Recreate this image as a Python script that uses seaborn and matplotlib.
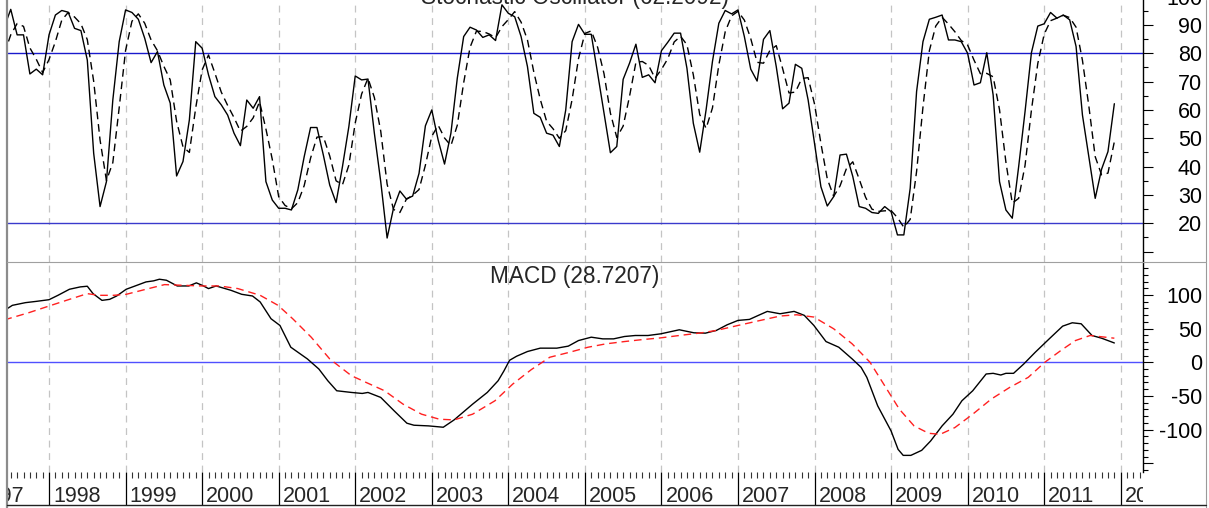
import numpy as np
import matplotlib
matplotlib.use('Agg')
import matplotlib.pyplot as plt
import matplotlib.transforms as mtransforms
from matplotlib.lines import Line2D
from matplotlib.ticker import MultipleLocator, FixedLocator, FuncFormatter
import seaborn as sns

# Monthly stochastic values, month index counted from January 1998 (-7 = June 1997)
stoch_month = list(range(-7, 168))
stoch_k = [
    89.4, 95.5, 86.5, 86.5, 72.7, 74.4, 72.4,
    86.5, 93.5, 95.1, 94.5, 88.8, 88.0, 77.6, 44.7, 25.9, 34.7, 63.5, 84.1,
    95.3, 94.4, 92.0, 85.3, 76.7, 80.6, 68.8, 62.4, 36.7, 41.8, 56.5, 84.1,
    81.8, 72.4, 64.7, 61.8, 58.2, 51.8, 47.4, 63.5, 60.6, 64.7, 34.7, 28.2,
    25.3, 25.3, 24.7, 31.8, 43.5, 53.8, 53.8, 44.1, 33.5, 27.3, 40.0, 54.1,
    72.0, 70.6, 70.9, 51.8, 34.7, 14.8, 25.3, 31.4, 28.6, 29.6, 37.6, 54.4,
    60.0, 49.4, 40.9, 51.8, 71.2, 85.9, 89.2, 88.2, 85.6, 86.5, 84.5, 97.1,
    94.1, 92.9, 85.9, 75.3, 58.8, 57.4, 51.8, 51.1, 47.1, 60.0, 84.1, 90.2,
    86.7, 86.7, 72.9, 58.8, 44.9, 47.1, 70.8, 76.5, 83.2, 71.5, 72.4, 69.6,
    80.9, 83.9, 87.1, 87.1, 74.7, 55.3, 45.1, 60.0, 77.1, 90.6, 95.1, 93.9,
    95.3, 85.9, 74.4, 70.2, 84.9, 88.0, 75.3, 60.4, 62.4, 76.1, 74.7, 63.5,
    48.2, 32.9, 26.1, 29.4, 44.1, 44.4, 36.5, 25.9, 25.3, 23.8, 23.5, 25.9,
    24.1, 15.9, 15.9, 32.4, 66.5, 84.1, 92.0, 92.7, 93.5, 84.7, 84.7, 84.1,
    80.0, 68.8, 69.6, 80.2, 65.3, 34.7, 24.7, 21.8, 40.0, 59.4, 80.2, 89.6,
    90.4, 94.4, 92.4, 93.5, 91.8, 82.4, 58.2, 43.5, 28.8, 39.1, 45.3, 62.2,
]
stoch_d = [
    80.0, 86.5, 90.5, 89.5, 81.9, 77.9, 73.2,
    77.8, 84.1, 91.7, 94.4, 92.8, 90.4, 84.8, 70.1, 49.4, 35.1, 41.4, 60.8,
    81.0, 91.3, 93.9, 90.6, 84.7, 80.9, 75.4, 70.6, 56.0, 47.0, 45.0, 60.8,
    74.1, 79.4, 73.0, 66.3, 61.6, 57.3, 52.5, 54.2, 57.2, 62.9, 53.3, 42.5,
    29.4, 26.3, 25.1, 27.3, 33.3, 43.0, 50.4, 50.6, 43.8, 35.0, 33.6, 40.5,
    55.4, 65.6, 71.2, 64.4, 52.5, 33.8, 24.9, 23.8, 28.4, 29.9, 31.9, 40.5,
    50.7, 54.6, 50.1, 47.4, 54.6, 69.6, 82.1, 87.8, 87.7, 86.8, 85.5, 89.4,
    91.9, 94.7, 91.0, 84.7, 73.3, 63.8, 56.0, 53.4, 50.0, 52.7, 63.7, 78.1,
    87.0, 87.9, 82.1, 72.8, 58.9, 50.3, 54.3, 64.8, 76.8, 77.1, 75.7, 71.2,
    74.3, 78.1, 84.0, 86.0, 83.0, 72.4, 58.4, 53.5, 60.7, 75.9, 87.6, 93.2,
    94.8, 91.7, 85.2, 76.8, 76.5, 81.0, 82.7, 74.6, 66.0, 66.3, 71.1, 71.4,
    62.1, 48.2, 35.7, 29.5, 33.2, 39.3, 41.7, 35.6, 29.2, 25.0, 24.2, 24.4,
    24.5, 22.0, 18.6, 21.4, 38.3, 61.0, 80.9, 89.6, 92.7, 90.3, 87.6, 84.5,
    82.9, 77.6, 72.8, 72.9, 71.7, 60.1, 41.6, 27.1, 28.8, 40.4, 59.9, 76.4,
    86.7, 91.5, 92.4, 93.4, 92.6, 89.2, 77.5, 61.4, 43.5, 37.1, 37.7, 48.8,
]

# MACD line and signal line, read at irregular month positions
macd_month = [
    -7, -5.75, -3.7, -2.0, 0, 1.4, 3.2, 4.9, 6.0, 6.9, 8.3, 9.5, 10.6, 12.1, 13.5,
    15.2, 16.4, 17.3, 18.4, 20.1, 21.9, 23.1, 24.0, 25.0, 26.2, 28.5, 30.2, 31.9,
    33.1, 34.8, 36.2, 37.9, 40.5, 42.3, 43.7, 45.1, 47.4, 49.1, 50.0, 52.0, 54.1,
    56.1, 57.2, 59.5, 61.8, 63.5, 66.4, 68.7, 70.4, 71.3, 72.2, 73.3, 75.0, 77.0,
    79.6, 81.4, 83.0, 85.0, 86.8, 88.5, 90.2, 91.9, 93.9, 95.9, 98.8, 101.1, 102.9,
    104.6, 106.3, 108.0, 109.8, 111.2, 112.6, 114.6, 116.8, 118.4, 119.9, 121.8,
    123.8, 125.9, 127.3, 128.2, 129.9, 132.0, 133.1, 133.9, 135.1, 136.8, 138.2,
    140.0, 141.7, 143.1, 144.8, 146.9, 148.0, 149.2, 150.0, 151.2, 152.8, 154.6,
    156.9, 158.9, 160.4, 161.8, 163.5, 165.0, 167.0,
]
macd_value = [
    77, 84.6, 88.6, 90.5, 93.0, 99.5, 108.5, 112, 113, 102, 92, 93.5, 98.5, 108.5, 113.4,
    119.4, 121, 123.4, 121.9, 113.4, 113.4, 118, 114.4, 109.5, 113.4, 107, 101, 98.5,
    89.6, 64.7, 54.7, 22.4, 5.0, -10, -27.4, -42.3, -44.8, -46.3, -44.8, -52.2, -72.1,
    -90.5, -93.5, -94.5, -96.5, -85.6, -62.2, -44.8, -27.4, -13, 3, 9, 16, 21,
    21, 24, 32.3, 37.3, 34.8, 34.8, 38.3, 39.8, 39.8, 42.3, 48.3, 43.8, 43.3,
    47.3, 55.7, 62.2, 63.7, 69.7, 75.6, 72.1, 75.6, 69.7, 54.7, 30.8,
    22.4, 5.0, -7.5, -22.4, -64.7, -102, -129.4, -138.3, -138.3, -130.8, -116.9,
    -94.5, -77.1, -57.2, -42.3, -17.4, -16.4, -18.9, -16.4, -16.4, -2.5, 14.9,
    35.8, 53.7, 58.7, 57.2, 39.8, 35.8, 28.7,
]
signal_month = [
    -7, -3.2, 0, 3.2, 6.0, 7.8, 10.1, 12.1, 15.2, 18.1, 21.0, 24.0, 26.7, 29.6, 33.1,
    35.9, 38.2, 41.1, 44.0, 47.4, 49.7, 52.6, 55.5, 58.4, 61.2, 63.5, 66.4, 69.9, 72.7,
    75.6, 78.5, 81.6, 84.5, 87.3, 90.2, 93.1, 95.9, 98.8, 102.3, 104.6, 108.0, 111.5,
    114.6, 117.2, 119.9, 123.0, 125.9, 128.7, 131.0, 133.3, 135.6, 137.9, 139.7, 142.0,
    144.8, 147.7, 150.6, 153.5, 156.1, 158.6, 160.9, 163.2, 167.0,
]
signal_value = [
    63, 73.6, 83.6, 93.5, 102, 99.5, 99.5, 101, 108.5, 115.4, 114.4, 113.4, 113.4, 109.5, 99.5,
    84.6, 64.7, 37.3, 5.0, -19.9, -29.9, -42.3, -62.2, -77.1, -84.6, -85.6, -77.1, -57.2, -32.3,
    -10.9, 7.5, 14.9, 22.4, 27.4, 30.8, 33.8, 36.3, 39.8, 43.8, 47.3, 54.7, 62.2,
    68.7, 70.6, 67.2, 49.8, 27.4, 0, -34.8, -69.7, -94.5, -105.5, -107, -97,
    -77.1, -54.7, -37.3, -22.4, 0, 17.4, 32.3, 39.8, 35.8,
]

stoch_title = 'Stochastic Oscillator (62.2092)'
macd_title = 'MACD (28.7207)'
years = list(range(1997, 2013))

sns.set_style('white')
plt.rcParams['font.family'] = ['Liberation Sans', 'DejaVu Sans']

W, H = 1209, 508
fig = plt.figure(figsize=(W / 100, H / 100), dpi=100)


def box(top, bottom):
    # pixel rows -> figure fraction rectangle
    return [7 / W, 1 - bottom / H, 1136 / W, (bottom - top) / H]


ax_st = fig.add_axes(box(-17, 262))
ax_md = fig.add_axes(box(262, 472))
ax_dt = fig.add_axes(box(472, 505))

x0, x1 = 1997.451, 2012.291
st_t = 1998 + np.array(stoch_month) / 12
md_t = 1998 + np.array(macd_month) / 12
sg_t = 1998 + np.array(signal_month) / 12

common = dict(estimator=None, sort=False, legend=False, errorbar=None)
sns.lineplot(x=st_t, y=stoch_k, ax=ax_st, color='black', lw=1.0, **common)
sns.lineplot(x=st_t, y=stoch_d, ax=ax_st, color='black', lw=1.0,
             linestyle=(0, (5.5, 3.5)), **common)
sns.lineplot(x=md_t, y=macd_value, ax=ax_md, color='black', lw=1.0, **common)
sns.lineplot(x=sg_t, y=signal_value, ax=ax_md, color='#ff2020', lw=1.0,
             linestyle=(0, (5.5, 3.5)), **common)

ax_st.axhline(80, color='#1a1acc', lw=1.0, zorder=1.5)
ax_st.axhline(20, color='#3a3acc', lw=1.0, zorder=1.5)
ax_md.axhline(0, color='#5050ff', lw=1.0, zorder=1.5)

ax_st.set_ylim(6.34, 104.8)
ax_md.set_ylim(-163, 149)


def right_axis(ax, majors, minor_step, hidden):
    ax.set_xlim(x0, x1)
    ax.set_xlabel('')
    ax.set_ylabel('')
    for s in ('left', 'top', 'bottom'):
        ax.spines[s].set_visible(False)
    ax.spines['right'].set_color('black')
    ax.spines['right'].set_linewidth(1.0)
    ax.yaxis.tick_right()
    ax.yaxis.set_major_locator(FixedLocator(majors))
    ax.yaxis.set_major_formatter(
        FuncFormatter(lambda v, p: '' if v in hidden else f'{v:.0f}'))
    ax.yaxis.set_minor_locator(MultipleLocator(minor_step))
    ax.tick_params(axis='y', which='major', direction='out', length=7.2,
                   width=0.8, pad=35.3, labelsize=15.5, colors='black')
    ax.tick_params(axis='y', which='minor', direction='out', length=3.6,
                   width=0.8, colors='black')
    ax.xaxis.set_major_locator(MultipleLocator(1))
    ax.tick_params(axis='x', length=0, labelbottom=False)
    ax.grid(True, axis='x', color='#c4c4c4', lw=0.9, linestyle=(0, (5.5, 4.5)))
    for lbl in ax.get_yticklabels():
        lbl.set_horizontalalignment('right')


right_axis(ax_st, list(range(10, 101, 10)), 5, {10})
right_axis(ax_md, [-150, -100, -50, 0, 50, 100], 10, {-150})

ax_st.text(0.5, 1 - 21 / 279, stoch_title, transform=ax_st.transAxes,
           ha='center', va='baseline', fontsize=16.3)
ax_md.text(0.5, 0.9, macd_title, transform=ax_md.transAxes,
           ha='center', va='baseline', fontsize=16.3)

# date strip under the panels
ax_dt.set_xlim(x0, x1)
ax_dt.set_ylim(0, 1)
ax_dt.axis('off')
month_ticks = [y + m / 12 for y in years for m in range(1, 12)]
ax_dt.vlines(month_ticks, 1 - 6 / 33, 1, color='#333333', lw=0.8)
ax_dt.vlines(years, 0, 1, color='black', lw=0.9)
shift = mtransforms.offset_copy(ax_dt.transData, fig=fig, x=4, y=0, units='dots')
for y in years:
    ax_dt.text(y, 0.09, str(y), transform=shift, ha='left', va='baseline',
               fontsize=15.5, clip_on=True)

# frame lines around the chart
fig.add_artist(Line2D([7 / W, 7 / W], [0, 1], color='#8c8c8c', lw=1.6))
fig.add_artist(Line2D([1206 / W, 1206 / W], [0, 1], color='#9a9a9a', lw=0.8))
fig.add_artist(Line2D([7 / W, 1206 / W], [1 - 262 / H] * 2, color='#a0a0a0', lw=0.8))
fig.add_artist(Line2D([7 / W, 1206 / W], [1 - 505 / H] * 2, color='#222222', lw=1.0))

fig.savefig('out.png', dpi=100)
